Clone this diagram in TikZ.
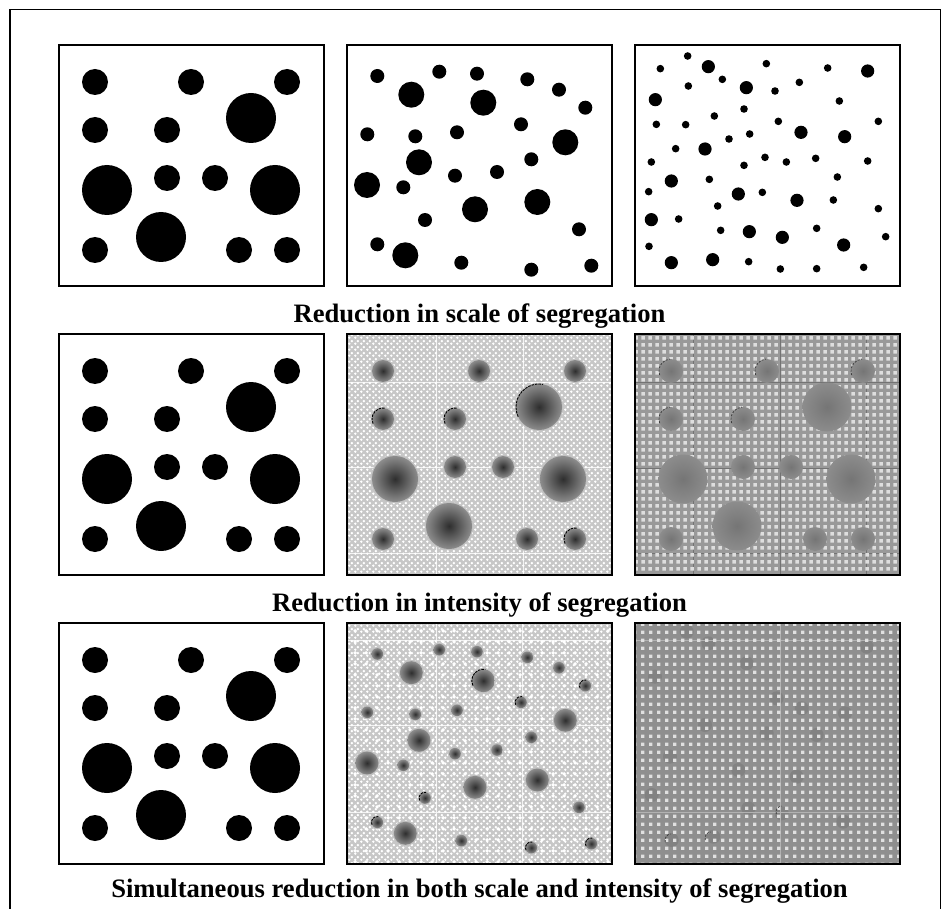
\documentclass[tikz,border=0pt]{standalone}
\usepackage{fontspec}
\setmainfont{Liberation Serif}
\usetikzlibrary{patterns}
\pgfdeclarepatternformonly{checkdots}{\pgfpoint{0pt}{0pt}}{\pgfpoint{6pt}{6pt}}{\pgfpoint{6pt}{6pt}}{%
  \pgfpathcircle{\pgfpoint{1.5pt}{1.5pt}}{1.5pt}%
  \pgfpathcircle{\pgfpoint{4.5pt}{4.5pt}}{1.5pt}%
  \pgfusepath{fill}}
\pgfdeclarepatternformonly{squaresA}{\pgfpoint{0pt}{0pt}}{\pgfpoint{6.6pt}{6.6pt}}{\pgfpoint{6.6pt}{6.6pt}}{%
  \pgfpathrectangle{\pgfpoint{1.5pt}{1.5pt}}{\pgfpoint{3.6pt}{3.6pt}}%
  \pgfusepath{fill}}
\pgfdeclarepatternformonly{squaresB}{\pgfpoint{0pt}{0pt}}{\pgfpoint{8.2pt}{8.2pt}}{\pgfpoint{8.2pt}{8.2pt}}{%
  \pgfpathrectangle{\pgfpoint{2.4pt}{2.4pt}}{\pgfpoint{3.4pt}{3.4pt}}%
  \pgfusepath{fill}}
\pgfdeclarepatternformonly{starsA}{\pgfpoint{0pt}{0pt}}{\pgfpoint{10.6pt}{10.6pt}}{\pgfpoint{10.6pt}{10.6pt}}{%
  \pgfpathcircle{\pgfpoint{5.3pt}{5.3pt}}{2pt}%
  \pgfusepath{fill}}
\tikzset{
  panel/.style={draw=black, line width=1.6pt},
  captext/.style={font=\fontsize{26.6}{30}\selectfont\bfseries, inner sep=0pt, anchor=base},
  blobdark/.style={inner color=black!82, outer color=black!45},
  blobpale/.style={inner color=black!54, outer color=black!45},
  rim/.style={fill=black!24},
  artarc/.style={draw=black, line width=0.9pt, dash pattern=on 2.5pt off 1pt},
  faintarc/.style={draw=black!80, line width=0.7pt, dash pattern=on 2pt off 1.5pt},
  tileline/.style={draw=white, line width=1pt, opacity=0.8},
  tiledark/.style={draw=black!55, line width=0.8pt},
}
\def\smallA{36/37,132/37,228/37,36/85,108/85,108/133,156/133,36/205,180/205,228/205}
\def\largeA{192/73,48/145,216/145,102/192}
\def\smallB{30.3/31,92.3/26.7,130/28.7,180.3/34.3,212/44.7,238.3/62.7,174/79.3,20.3/89.3,68.3/91.3,110/87.3,184.3/114.3,56.3/142.3,108/130.7,150/127,78/175,232/184.3,30.3/199.3,114.3/217.7,184.3/224.7,244.3/220.7}
\def\largeB{64.3/49.7,136.3/57.7,218.3/97.3,72/117.3,20/140,128/164.3,190.3/157,58.3/210.3}
\def\smallC{263/78,181/116,499/101,683/114,367/148,265/168,525/183,598/157,718/213,432/237,343/258,169/283,257/284,535/274,835/274,449/312,387/327,227/356,154/396,495/382,432/406,559/396,647/385,803/393,328/448,712/441,146/485,487/487,700/510,353/528,835/536,236/567,362/601,650/595,857/620,147/649,446/695,541/717,650/716,791/712}
\def\largeC{325/110,803/123,439/173,166/209,603/307,734/320,315/357,214/453,415/492,591/511,154/569,448/605,547/622,731/645,214/698,338/689}
\def\faintD{265/100,380/160,105/200,545/295,675/310,255/345,150/440,355/480,530/500,95/555,385/595,485/610,670/635,155/690,280/680,740/110,200/65,470/265,590/375,440/370}
\newcommand\blob[4]{%
  \fill[rim] (#1,#2) circle[radius=#3pt+1.3pt];
  \shade[#4] (#1,#2) circle[radius=#3pt];}
\newcommand\artarc[3]{%
  \draw[artarc] (#1,#2) ++(205:#3pt) arc[start angle=205, end angle=80, radius=#3pt];}
\newcommand\faintarc[3]{%
  \draw[faintarc] (#1,#2) ++(200:#3pt) arc[start angle=200, end angle=95, radius=#3pt];}
\begin{document}
\begin{tikzpicture}[x=1pt,y=-1pt]
\useasboundingbox (0,0) rectangle (942,909);
\fill[white] (0,0) rectangle (942,909);

% ---------- column 1 (all rows): large black dots ----------
\foreach \oy in {45,334,623}{
  \begin{scope}[shift={(59,\oy)}]
    \foreach \x/\y in \smallA {\fill (\x,\y) circle[radius=13pt];}
    \foreach \x/\y in \largeA {\fill (\x,\y) circle[radius=25pt];}
  \end{scope}}

% ---------- row 1, column 2 ----------
\begin{scope}[shift={(347,45)}]
  \foreach \x/\y in \smallB {\fill (\x,\y) circle[radius=7pt];}
  \foreach \x/\y in \largeB {\fill (\x,\y) circle[radius=13pt];}
\end{scope}

% ---------- row 1, column 3 ----------
\foreach \x/\y in \smallC {\fill ({600+\x/3},{30+\y/3}) circle[radius=3.8pt];}
\foreach \x/\y in \largeC {\fill ({600+\x/3},{30+\y/3}) circle[radius=6.6pt];}

% ---------- row 2, column 2 ----------
\fill[black!22] (347,334) rectangle ++(265,241);
\fill[pattern=checkdots, pattern color=white] (347,334) rectangle ++(265,241);
\draw[tileline] (436,334) -- (436,575) (523,334) -- (523,575)
  (347,382) -- (612,382) (347,467) -- (612,467) (347,553) -- (612,553);
\begin{scope}[shift={(347,334)}]
  \foreach \x/\y in \smallA {\blob{\x}{\y}{11}{blobdark}}
  \foreach \x/\y in \largeA {\blob{\x}{\y}{23}{blobdark}}
  \artarc{36}{85}{11}\artarc{108}{85}{11}\artarc{192}{73}{23}\artarc{228}{205}{11}
\end{scope}

% ---------- row 2, column 3 ----------
\fill[black!40] (635,334) rectangle ++(265,241);
\draw[tiledark] (693,334) -- (693,575) (780,334) -- (780,575) (866,334) -- (866,575)
  (635,382) -- (900,382) (635,468) -- (900,468) (635,553) -- (900,553);
\fill[pattern=squaresA, pattern color=black!13] (635,334) rectangle ++(265,241);
\begin{scope}[shift={(635,334)}]
  \foreach \x/\y in \smallA {\shade[blobpale] (\x,\y) circle[radius=12pt];}
  \foreach \x/\y in \largeA {\shade[blobpale] (\x,\y) circle[radius=24.5pt];}
  \faintarc{36}{37}{12}\faintarc{132}{37}{12}\faintarc{228}{37}{12}\faintarc{36}{85}{12}\faintarc{108}{85}{12}
\end{scope}

% ---------- row 3, column 2 ----------
\fill[black!22] (347,623) rectangle ++(265,241);
\fill[pattern=checkdots, pattern color=white] (347,623) rectangle ++(265,241);
\fill[pattern=starsA, pattern color=white] (347,623) rectangle ++(265,241);
\draw[tileline] (436,623) -- (436,864) (522,623) -- (522,864)
  (347,640) -- (612,640) (347,725) -- (612,725) (347,812) -- (612,812);
\begin{scope}[shift={(347,623)}]
  \foreach \x/\y in \smallB {\blob{\x}{\y}{5.8}{blobdark}}
  \foreach \x/\y in \largeB {\blob{\x}{\y}{11.5}{blobdark}}
  \artarc{136.3}{57.7}{11.5}\artarc{238.3}{62.7}{5.8}\artarc{174}{79.3}{5.8}
  \artarc{78}{175}{5.8}\artarc{30.3}{199.3}{5.8}\artarc{244.3}{220.7}{5.8}\artarc{184.3}{224.7}{5.8}
\end{scope}

% ---------- row 3, column 3 ----------
\fill[black!44] (635,623) rectangle ++(265,241);
\foreach \x/\y in \faintD {\fill[black!49] ({620+\x/3},{610+\y/3}) circle[radius=7pt];}
\draw[draw=black!30, line width=0.8pt] (635,640) -- (900,640) (635,812) -- (900,812) (780,623) -- (780,864);
\fill[pattern=squaresB, pattern color=black!12] (635,623) rectangle ++(265,241);
\faintarc{782}{812}{6}\faintarc{671}{840}{6}\faintarc{711}{838}{6}

% ---------- panel borders ----------
\foreach \px in {59,347,635}{
  \foreach \py in {45,334,623}{
    \draw[panel] (\px,\py) rectangle ++(265,241);}}

% ---------- captions ----------
\node[captext] (cap1) at (479.5,322) {Reduction in scale of segregation};
\node[captext] (cap2) at (479.5,611) {Reduction in intensity of segregation};
\node[captext] (cap3) at (479.5,897) {Simultaneous reduction in both scale and intensity of segregation};

% ---------- outer frame ----------
\draw[line width=1.3pt] (10,925) -- (10,9.5) -- (940.5,9.5) -- (940.5,925);
\end{tikzpicture}
\end{document}
